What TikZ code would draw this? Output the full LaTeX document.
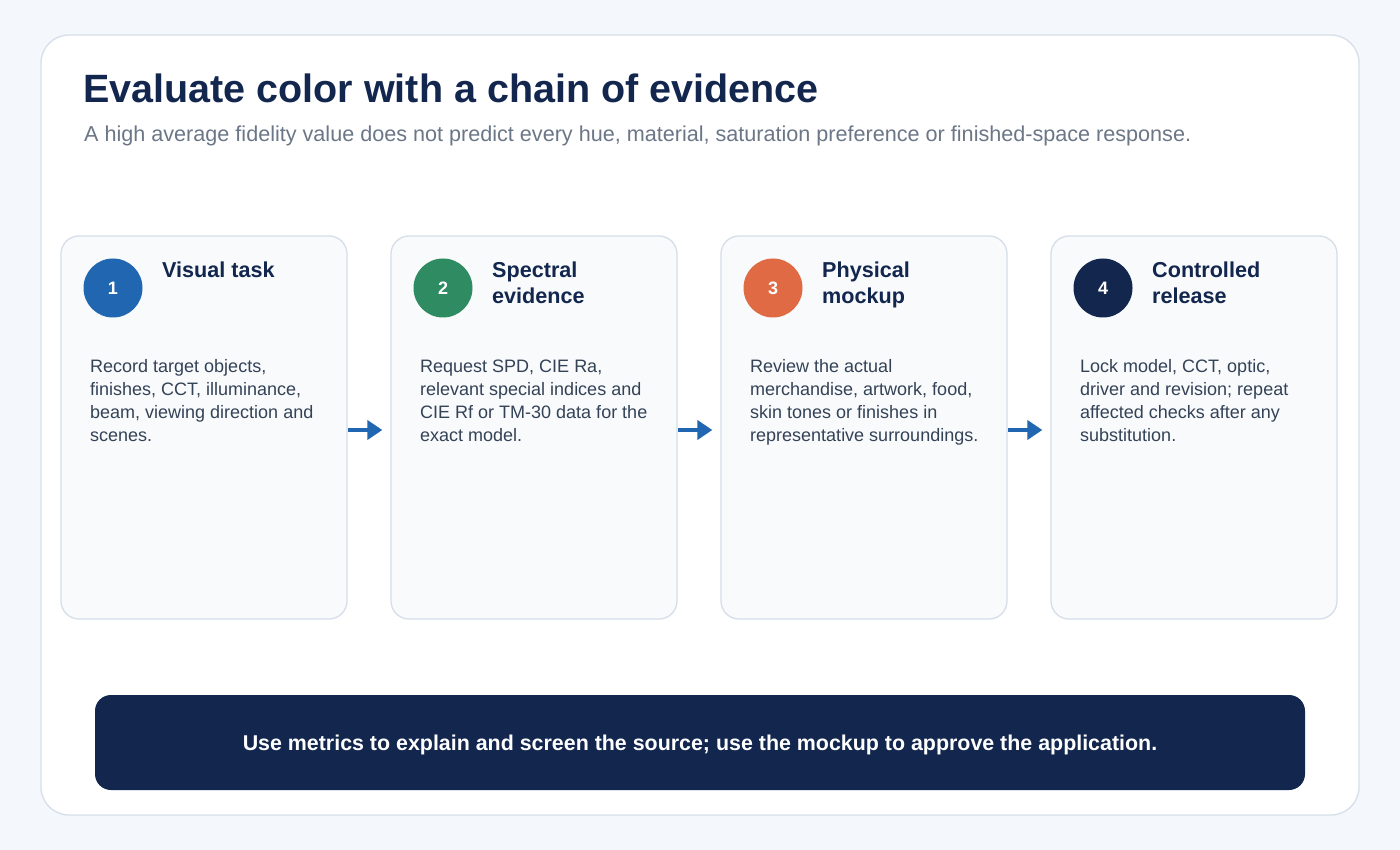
\documentclass[tikz,border=0pt]{standalone}
\usepackage{fontspec}
\setmainfont{Liberation Sans}
\usetikzlibrary{arrows.meta}
\definecolor{bgc}{HTML}{F4F7FB}
\definecolor{panelline}{HTML}{D6DFEA}
\definecolor{cardfill}{HTML}{F8FAFC}
\definecolor{cardline}{HTML}{D5DEE9}
\definecolor{navy}{HTML}{12264E}
\definecolor{subgray}{HTML}{6B7687}
\definecolor{bodytext}{HTML}{344256}
\definecolor{cblue}{HTML}{2166B1}
\definecolor{cgreen}{HTML}{2E8B62}
\definecolor{corange}{HTML}{E06A43}
\tikzset{
  card/.style={draw=cardline, line width=1.3pt, fill=cardfill, rounded corners=18pt, minimum width=286pt, minimum height=383pt, inner sep=0pt},
  badge/.style={circle, minimum size=59pt, inner sep=0pt, text=white, font=\fontsize{18}{20}\selectfont\bfseries},
  ctitle/.style={anchor=base west, inner sep=0pt, align=left, text=navy, font=\fontsize{21.6}{26}\selectfont\bfseries},
  cbody/.style={anchor=base west, inner sep=0pt, align=left, text=bodytext, font=\fontsize{18}{23}\selectfont},
  flow/.style={draw=cblue, line width=4.5pt, -{Triangle[length=15pt,width=19pt]}, shorten >=8pt},
}
\begin{document}
\begin{tikzpicture}[x=1pt,y=-1pt]
\fill[bgc] (0,0) rectangle (1400,850);
\useasboundingbox (0,0) rectangle (1400,850);
\node[draw=panelline, line width=1.3pt, fill=white, rounded corners=28pt, minimum width=1318pt, minimum height=780pt, inner sep=0pt] (panel) at (700,425) {};
\node[anchor=base west, inner sep=0pt, text=navy, font=\fontsize{39.5}{42}\selectfont\bfseries] (title) at (83,103) {Evaluate color with a chain of evidence};
\node[anchor=base west, inner sep=0pt, text=subgray, font=\fontsize{21.6}{24}\selectfont] (subtitle) at (84,142) {A high average fidelity value does not predict every hue, material, saturation preference or finished-space response.};
% cards
\node[card] (c1) at (204,427.5) {};
\node[card] (c2) at (534,427.5) {};
\node[card] (c3) at (864,427.5) {};
\node[card] (c4) at (1194,427.5) {};
% badges
\node[badge, fill=cblue] (b1) at (113,288) {1};
\node[badge, fill=cgreen] (b2) at (443,288) {2};
\node[badge, fill=corange] (b3) at (773,288) {3};
\node[badge, fill=navy] (b4) at (1103,288) {4};
% titles
\node[ctitle] (t1) at (162,278) {Visual task};
\node[ctitle] (t2) at (492,304) {Spectral\\evidence};
\node[ctitle] (t3) at (822,304) {Physical\\mockup};
\node[ctitle] (t4) at (1152,304) {Controlled\\release};
% bodies
\node[cbody] (d1) at (90,441) {Record target objects,\\finishes, CCT, illuminance,\\beam, viewing direction and\\scenes.};
\node[cbody] (d2) at (420,441) {Request SPD, CIE Ra,\\relevant special indices and\\CIE Rf or TM-30 data for the\\exact model.};
\node[cbody] (d3) at (750,441) {Review the actual\\merchandise, artwork, food,\\skin tones or finishes in\\representative surroundings.};
\node[cbody] (d4) at (1080,441) {Lock model, CCT, optic,\\driver and revision; repeat\\affected checks after any\\substitution.};
% arrows
\draw[flow] ([yshift=-2.5pt]c1.east) -- ([yshift=-2.5pt]c2.west);
\draw[flow] ([yshift=-2.5pt]c2.east) -- ([yshift=-2.5pt]c3.west);
\draw[flow] ([yshift=-2.5pt]c3.east) -- ([yshift=-2.5pt]c4.west);
% banner
\node[fill=navy, rounded corners=16pt, minimum width=1210pt, minimum height=95pt, inner sep=0pt] (banner) at (700,742.5) {};
\node[anchor=base, text=white, inner sep=0pt, font=\fontsize{21.4}{24}\selectfont\bfseries] (bannertext) at (700,750) {Use metrics to explain and screen the source; use the mockup to approve the application.};
\end{tikzpicture}
\end{document}
